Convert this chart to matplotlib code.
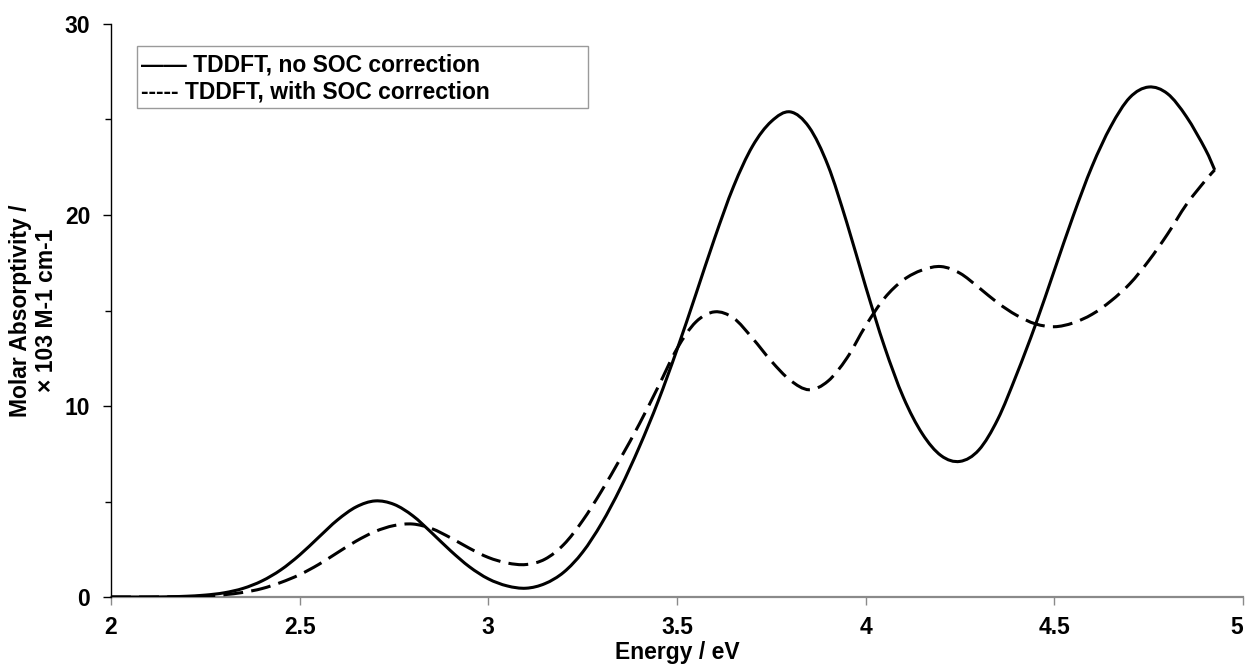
import matplotlib
matplotlib.use("Agg")
import numpy as np
import matplotlib.pyplot as plt
from matplotlib.patches import Rectangle, PathPatch
from matplotlib.path import Path
from matplotlib.ticker import MultipleLocator
from matplotlib.transforms import ScaledTranslation

plt.rcParams['font.family'] = ['Liberation Sans', 'DejaVu Sans']
plt.rcParams['font.weight'] = 'bold'

# Photon energy grid (eV)
energy = [2.00, 2.05, 2.10, 2.15, 2.20, 2.25, 2.30, 2.35, 2.40, 2.45,
          2.50, 2.55, 2.60, 2.65, 2.70, 2.75, 2.80, 2.85, 2.90, 2.95,
          3.00, 3.05, 3.10, 3.15, 3.20, 3.25, 3.30, 3.35, 3.40, 3.45,
          3.50, 3.55, 3.60, 3.65, 3.70, 3.75, 3.80, 3.85, 3.90, 3.95,
          4.00, 4.05, 4.10, 4.15, 4.20, 4.25, 4.30, 4.35, 4.40, 4.45,
          4.50, 4.55, 4.60, 4.65, 4.70, 4.75, 4.80, 4.85, 4.90, 4.925]

# Simulated molar absorptivity (x 10^3 M-1 cm-1), no spin-orbit correction
no_soc = [0.00, 0.00, 0.00, 0.01, 0.04, 0.10, 0.22, 0.45, 0.84, 1.42,
          2.20, 3.12, 4.03, 4.72, 5.03, 4.85, 4.25, 3.36, 2.42, 1.58,
          0.95, 0.58, 0.46, 0.70, 1.30, 2.35, 3.85, 5.70, 7.85, 10.25,
          12.95, 15.85, 18.80, 21.50, 23.60, 24.90, 25.40, 24.60, 22.60, 19.60,
          16.25, 13.10, 10.45, 8.55, 7.40, 7.10, 7.70, 9.30, 11.65, 14.25,
          17.10, 19.95, 22.55, 24.65, 26.15, 26.70, 26.35, 25.15, 23.45, 22.36]

# Simulated molar absorptivity with spin-orbit correction
with_soc = [0.00, 0.00, 0.00, 0.01, 0.02, 0.05, 0.12, 0.24, 0.44, 0.76,
            1.17, 1.70, 2.32, 2.93, 3.43, 3.74, 3.82, 3.58, 3.10, 2.55,
            2.07, 1.78, 1.70, 1.98, 2.75, 4.00, 5.55, 7.25, 9.05, 11.00,
            13.00, 14.40, 14.93, 14.60, 13.55, 12.35, 11.35, 10.85, 11.30, 12.50,
            14.20, 15.65, 16.60, 17.12, 17.30, 16.95, 16.20, 15.40, 14.75, 14.30,
            14.15, 14.35, 14.80, 15.50, 16.40, 17.60, 19.00, 20.55, 21.80, 22.36]

x_ticks = [2, 2.5, 3, 3.5, 4, 4.5, 5]
x_tick_labels = ['2', '2.5', '3', '3.5', '4', '4.5', '5']
y_ticks = [0, 10, 20, 30]
legend_lines = ['\u2014\u2014 TDDFT, no SOC correction',
                '----- TDDFT, with SOC correction']


def smooth_path(xs, ys):
    """Smoothed line through the points (cubic Bezier segments,
    Catmull-Rom style tangents)."""
    p = np.column_stack([xs, ys]).astype(float)
    n = len(p)
    verts = [p[0]]
    codes = [Path.MOVETO]
    for i in range(n - 1):
        p0 = p[i - 1] if i > 0 else p[i]
        p1, p2 = p[i], p[i + 1]
        p3 = p[i + 2] if i + 2 < n else p[i + 1]
        c1 = p1 + (p2 - p0) / 6.0
        c2 = p2 - (p3 - p1) / 6.0
        verts += [c1, c2, p2]
        codes += [Path.CURVE4] * 3
    return Path(np.array(verts), codes)


W, H = 1246, 666
fig = plt.figure(figsize=(W / 100, H / 100), dpi=100)
ax = fig.add_axes([111 / W, 69 / H, 1132 / W, 573 / H])

ax.add_patch(PathPatch(smooth_path(energy, no_soc), facecolor='none',
                       edgecolor='black', lw=2.2, capstyle='butt', zorder=3))
ax.add_patch(PathPatch(smooth_path(energy, with_soc), facecolor='none',
                       edgecolor='black', lw=2.2, linestyle=(0, (6.5, 2.7)),
                       capstyle='butt', zorder=3))

ax.set_xlim(2, 5)
ax.set_ylim(0, 30)
ax.set_xticks(x_ticks)
ax.set_xticklabels(x_tick_labels)
ax.set_yticks(y_ticks)
ax.yaxis.set_minor_locator(MultipleLocator(5))

for side in ('top', 'right'):
    ax.spines[side].set_visible(False)
ax.spines['left'].set_color('black')
ax.spines['left'].set_linewidth(1.0)
ax.spines['bottom'].set_color('#8a8a8a')
ax.spines['bottom'].set_linewidth(1.6)
ax.spines['bottom'].set_zorder(0)

ax.tick_params(axis='y', which='major', direction='out', length=6, width=1,
               color='black', labelsize=16.5, pad=9)
ax.tick_params(axis='y', which='minor', direction='out', length=4.5, width=1,
               color='black')
ax.tick_params(axis='x', which='major', direction='out', length=6, width=1,
               color='#8a8a8a', labelsize=16.5, pad=8)
for lab in ax.get_xticklabels() + ax.get_yticklabels():
    lab.set_fontweight('bold')

# keep the last energy label inside the figure
last = ax.get_xticklabels()[-1]
last.set_transform(last.get_transform() + ScaledTranslation(-6 / 100, 0, fig.dpi_scale_trans))

ax.set_xlabel('Energy / eV', fontsize=16.5, fontweight='bold', labelpad=1)
ax.set_ylabel('Molar Absorptivity /\n\u00d7 103 M-1 cm-1', fontsize=16.5,
              fontweight='bold', labelpad=5, linespacing=1.15)

# Key box with text entries
box = Rectangle((137 / W, 1 - 108 / H), (588 - 137) / W, (108 - 46) / H,
                transform=fig.transFigure, facecolor='white',
                edgecolor='#9a9a9a', lw=1.0, zorder=5)
fig.patches.append(box)
fig.text(141 / W, 1 - 65 / H, legend_lines[0], fontsize=16.5, fontweight='bold',
         va='center', ha='left', zorder=6)
fig.text(141 / W, 1 - 92 / H, legend_lines[1], fontsize=16.5, fontweight='bold',
         va='center', ha='left', zorder=6)

fig.savefig('out.png', dpi=100)
